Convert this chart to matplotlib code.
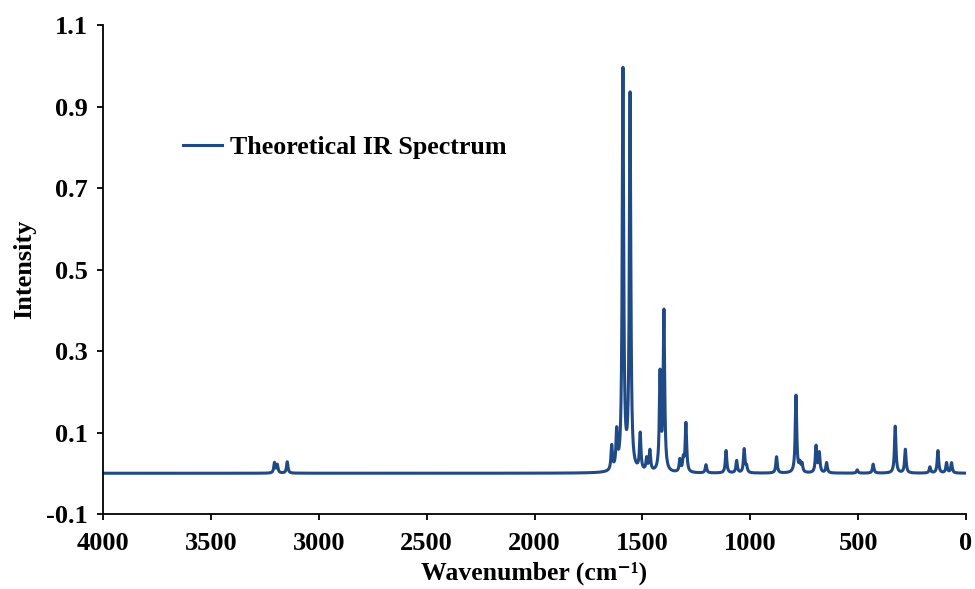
import matplotlib
matplotlib.use('Agg')
import matplotlib.pyplot as plt
import numpy as np

plt.rcParams['font.family'] = ['Liberation Serif', 'DejaVu Serif']
plt.rcParams['font.weight'] = 'bold'
plt.rcParams['axes.unicode_minus'] = False

# computed vibrational lines (cm-1, relative intensity)
peak_pos = [3205, 3192, 3146,
            1642, 1619, 1590, 1557, 1510, 1480, 1465, 1418, 1400,
            1326, 1310, 1298, 1205, 1112, 1063, 1028, 1017, 878,
            788, 770, 760, 695, 680, 646, 504, 430, 328, 281,
            167, 130, 90, 67]
peak_int = [0.025, 0.02, 0.028,
            0.06, 0.09, 0.98, 0.92, 0.09, 0.03, 0.05, 0.235, 0.39,
            0.03, 0.03, 0.12, 0.02, 0.055, 0.03, 0.058, 0.015, 0.04,
            0.19, 0.02, 0.02, 0.065, 0.048, 0.025, 0.008, 0.022, 0.115, 0.058,
            0.015, 0.055, 0.025, 0.025]
hwhm = 4.0  # lorentzian half width

y_ticks = [-0.1, 0.1, 0.3, 0.5, 0.7, 0.9, 1.1]
x_ticks = [4000, 3500, 3000, 2500, 2000, 1500, 1000, 500, 0]

# broadened spectrum
wn = np.arange(0, 4000.5, 0.5)
spec = np.zeros_like(wn)
for p, h in zip(peak_pos, peak_int):
    spec += h * hwhm**2 / ((wn - p)**2 + hwhm**2)

fig = plt.figure(figsize=[9.75, 5.89], dpi=100)
ax = fig.add_axes([103/975, 1 - 514/589, 863/975, 489/589])

ax.plot(wn, spec, color='#1F4A86', lw=2.2, label='Theoretical IR Spectrum')

ax.set_xlim(4000, 0)
ax.set_ylim(-0.1, 1.1)
ax.set_xticks(x_ticks)
ax.set_yticks(y_ticks)
ax.set_yticklabels(['%.1f' % v for v in y_ticks])

for s in ['top', 'right']:
    ax.spines[s].set_visible(False)
for s in ['left', 'bottom']:
    ax.spines[s].set_linewidth(1.3)
ax.tick_params(direction='out', length=4, width=1.3, labelsize=19)
ax.tick_params(axis='x', pad=9)
ax.tick_params(axis='y', pad=7)

ax.set_xlabel('Wavenumber (cm\u207b\u00b9)', fontsize=18.5, fontweight='bold', labelpad=5)
ax.set_ylabel('Intensity', fontsize=19, fontweight='bold', labelpad=7)

ax.legend(loc='center left', bbox_to_anchor=(0.0927, 0.7505), frameon=False,
          fontsize=18.7, handlelength=1.5, handletextpad=0.3, borderpad=0,
          borderaxespad=0)

fig.savefig('out.png', dpi=100)
